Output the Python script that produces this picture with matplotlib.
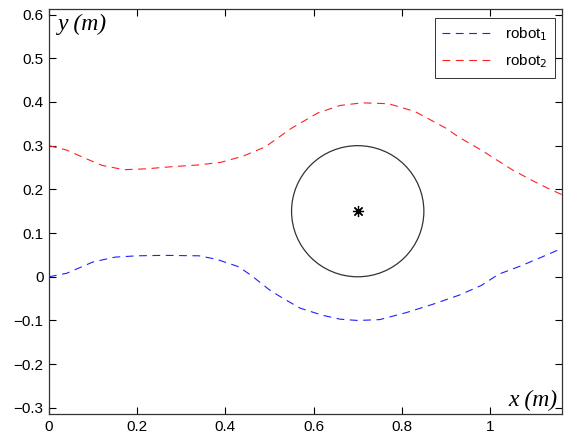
import matplotlib
matplotlib.use("Agg")
import matplotlib.pyplot as plt
from matplotlib.patches import Circle
from matplotlib.ticker import FuncFormatter

# trajectories
x_robot1 = [0, 0.04, 0.10, 0.15, 0.20, 0.26, 0.34, 0.38, 0.43, 0.46, 0.50, 0.53, 0.57,
            0.62, 0.66, 0.70, 0.75, 0.81, 0.87, 0.93, 0.98, 1.02, 1.07, 1.11, 1.14, 1.163]
y_robot1 = [0.0, 0.008, 0.034, 0.045, 0.048, 0.049, 0.048, 0.040, 0.023, 0.002, -0.030, -0.049, -0.072,
            -0.088, -0.097, -0.100, -0.098, -0.082, -0.063, -0.042, -0.020, 0.006, 0.025, 0.042, 0.055, 0.065]

x_robot2 = [0, 0.04, 0.08, 0.12, 0.17, 0.22, 0.28, 0.34, 0.39, 0.44, 0.49, 0.55, 0.61,
            0.66, 0.71, 0.77, 0.83, 0.90, 0.93, 0.98, 1.05, 1.10, 1.13, 1.163]
y_robot2 = [0.300, 0.290, 0.272, 0.255, 0.245, 0.247, 0.252, 0.256, 0.262, 0.276, 0.297, 0.340, 0.375,
            0.392, 0.398, 0.396, 0.378, 0.340, 0.319, 0.290, 0.245, 0.218, 0.203, 0.188]

obstacle_center = (0.7, 0.15)
obstacle_radius = 0.15

xticks = [0, 0.2, 0.4, 0.6, 0.8, 1]
yticks = [-0.3, -0.2, -0.1, 0, 0.1, 0.2, 0.3, 0.4, 0.5, 0.6]

plt.rcParams["font.family"] = ["Liberation Sans", "DejaVu Sans"]
plt.rcParams["font.size"] = 11

fig = plt.figure(figsize=(5.75, 4.37), dpi=100)
ax = fig.add_axes([0.0852, 0.0526, 0.8928, 0.9261])

ax.plot(x_robot1, y_robot1, "--", color="#2020ff", lw=0.8, dashes=(7, 5), label="robot$_1$")
ax.plot(x_robot2, y_robot2, "--", color="#ff2020", lw=0.8, dashes=(7, 5), label="robot$_2$")

ax.add_patch(Circle(obstacle_center, obstacle_radius, fill=False, ec="#333333", lw=0.9))
ax.plot([obstacle_center[0]], [obstacle_center[1]], marker=(8, 2, 0), ms=8, color="black", mew=0.9)

ax.set_xlim(0, 1.164)
ax.set_ylim(-0.314, 0.612)
ax.set_xticks(xticks)
ax.set_yticks(yticks)
fmt = FuncFormatter(lambda v, p: ("%g" % v).replace("-", "\u2212"))
ax.xaxis.set_major_formatter(fmt)
ax.yaxis.set_major_formatter(fmt)
ax.tick_params(direction="in", top=True, right=True, length=5, width=0.8, labelsize=11, pad=4)
for s in ax.spines.values():
    s.set_linewidth(0.9)
    s.set_color("#333333")

ax.text(0.017, 0.99, "y (m)", transform=ax.transAxes, ha="left", va="top",
        family=["Liberation Serif"], style="italic", fontsize=17)
ax.text(0.99, 0.008, "x (m)", transform=ax.transAxes, ha="right", va="bottom",
        family=["Liberation Serif"], style="italic", fontsize=17)

leg = ax.legend(loc="upper right", bbox_to_anchor=(0.986, 0.979), borderaxespad=0,
                fancybox=False, edgecolor="black", handlelength=3.1, borderpad=0.5,
                labelspacing=0.6, handletextpad=1.0, fontsize=11)
leg.get_frame().set_linewidth(0.7)

fig.savefig("out.png", dpi=100)
